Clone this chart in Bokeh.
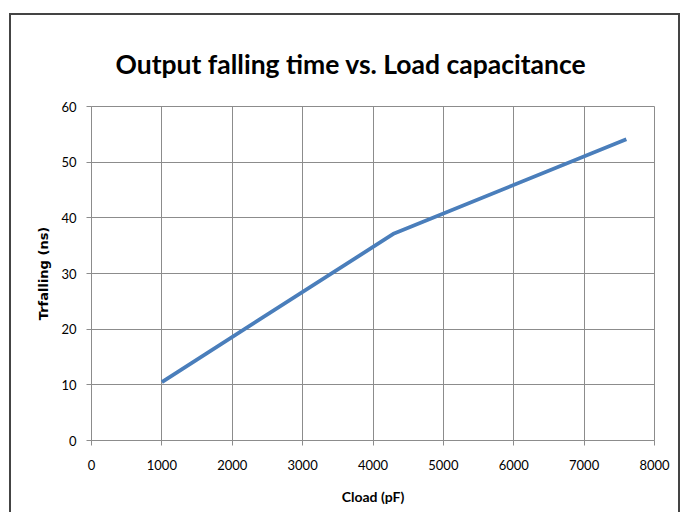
from bokeh.plotting import figure
from bokeh.models import Range1d, FixedTicker, Title
from bokeh.embed import file_html
from bokeh.resources import INLINE

# Data
cload_pf = [1000, 4300, 7600]
trfalling_ns = [10.5, 37.2, 54.1]
x_ticks = [0, 1000, 2000, 3000, 4000, 5000, 6000, 7000, 8000]
y_ticks = [0, 10, 20, 30, 40, 50, 60]
title_text = "Output falling time vs. Load capacitance"
x_label = "Cload (pF)"
y_label = "Trfalling (ns)"

FONT = "Lato"
GRID = "#8c8c8c"

p = figure(width=671, height=499, output_backend="svg", toolbar_location=None,
           x_range=Range1d(0, 8000), y_range=Range1d(0, 60),
           min_border_left=80, min_border_right=28, min_border_top=91, min_border_bottom=74,
           styles={"border-top": "2px solid #444444", "border-left": "2px solid #444444",
                   "border-right": "2px solid #444444",
                   "margin-left": "9px", "margin-top": "13px"})

p.line(cload_pf, trfalling_ns, line_color="#4A7EBB", line_width=3.8)

p.outline_line_color = GRID
p.outline_line_width = 1

for ax, ticks in ((p.xaxis, x_ticks), (p.yaxis, y_ticks)):
    ax.ticker = FixedTicker(ticks=ticks)
    ax.axis_line_color = GRID
    ax.major_tick_line_color = GRID
    ax.major_tick_out = 5
    ax.major_tick_in = 0
    ax.minor_tick_line_color = None
    ax.major_label_text_font = FONT
    ax.major_label_text_font_size = "13px"
    ax.major_label_text_color = "#000000"
    ax.axis_label_text_font_style = "bold"
    ax.axis_label_text_color = "#000000"

p.xaxis.major_label_standoff = 14
p.yaxis.major_label_standoff = 10
p.xaxis.axis_label = x_label
p.xaxis.axis_label_text_font = FONT
p.xaxis.axis_label_text_font_size = "14px"
p.xaxis.axis_label_standoff = 15
p.yaxis.axis_label = y_label
p.yaxis.axis_label_text_font = "DejaVu Sans"
p.yaxis.axis_label_text_font_size = "13px"
p.yaxis.axis_label_standoff = 7

p.xgrid.ticker = FixedTicker(ticks=x_ticks)
p.ygrid.ticker = FixedTicker(ticks=y_ticks)
p.xgrid.grid_line_color = GRID
p.ygrid.grid_line_color = GRID
p.xgrid.grid_line_alpha = 1
p.ygrid.grid_line_alpha = 1

title = Title(text=title_text, align="left", offset=24, standoff=54,
              text_font=FONT, text_font_style="bold", text_font_size="26.5px",
              text_color="#000000")
p.add_layout(title, "above")

open("out.html", "w").write(file_html(p, INLINE))
